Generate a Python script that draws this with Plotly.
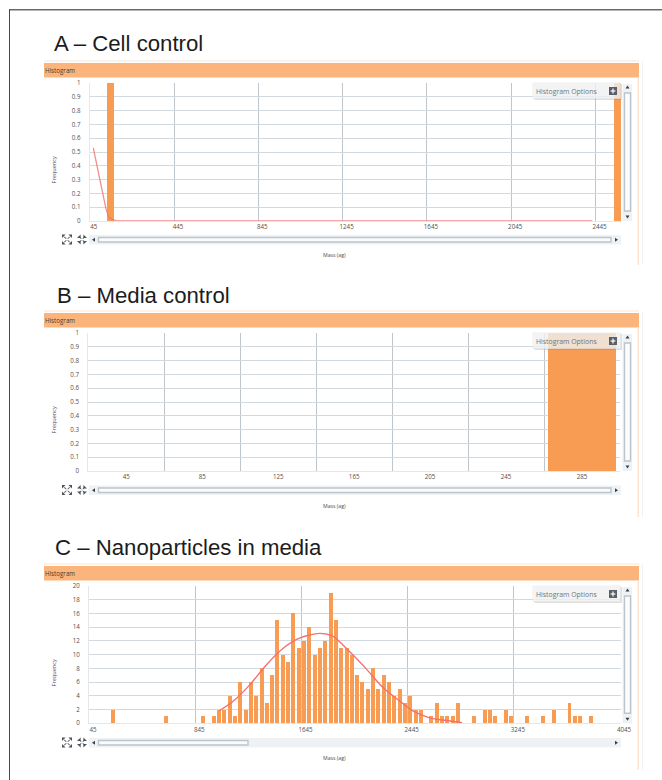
import plotly.graph_objects as go

W, H = 662, 780

# ---------- data ----------
a_bin_centers = [144, 2547]
a_bin_freq = [1, 1]
a_curve_x = [62, 74, 86, 98, 110, 122, 135, 150, 170, 200, 2430]
a_curve_y = [0.53, 0.44, 0.34, 0.25, 0.17, 0.09, 0.03, 0.012, 0.003, 0, 0]
a_ticks = [45, 445, 845, 1245, 1645, 2045, 2445]

b_bin_centers = [285]
b_bin_freq = [1]
b_labels = [45, 85, 125, 165, 205, 245, 285]
b_grid = [65, 105, 145, 185, 225, 265]

c_bin_centers = [225, 625, 905, 985, 1025, 1065, 1105, 1145, 1185, 1225, 1265, 1305, 1345, 1385, 1425,
                 1465, 1505, 1545, 1585, 1625, 1665, 1705, 1745, 1785, 1825, 1865, 1905, 1945, 1985,
                 2025, 2065, 2105, 2145, 2185, 2225, 2265, 2305, 2345, 2385, 2425, 2465, 2505, 2545,
                 2625, 2665, 2705, 2745, 2785, 2825, 2945, 3025, 3065, 3105, 3185, 3225, 3345, 3465,
                 3545, 3665, 3705, 3745, 3825]
c_bin_freq = [2, 1, 1, 1, 2, 2, 4, 1, 6, 2, 6, 4, 8, 3, 7,
              15, 10, 9, 16, 11, 12, 14, 10, 11, 12, 19, 15, 11, 11,
              10, 7, 6, 5, 8, 5, 7, 6, 4, 5, 3, 4, 2, 2,
              1, 3, 1, 1, 1, 3, 1, 2, 2, 1, 2, 1, 1, 1,
              2, 3, 1, 1, 1]
c_curve_x = [1025, 1130, 1255, 1380, 1505, 1630, 1780, 1880, 2005, 2130, 2255, 2385, 2485, 2610, 2735, 2855]
c_curve_y = [1.8, 3.2, 5.6, 8.5, 10.9, 12.4, 13.1, 12.7, 10.5, 8.0, 5.3, 3.25, 1.8, 0.8, 0.4, 0.1]
c_ticks = [45, 845, 1645, 2445, 3245, 4045]

a_yticks = [0, .1, .2, .3, .4, .5, .6, .7, .8, .9, 1]
c_yticks = list(range(0, 21, 2))

titles = ["A – Cell control", "B – Media control", "C – Nanoparticles in media"]

# ---------- styles ----------
HEADER = "#FBB57C"
BAR = "#F79C52"
CURVE = "#F4716F"
GRID = "#D3DADF"
VGRID = "#BFC7CD"
TXT = "#4f4f4f"
BASE = "Liberation Sans, Arial, sans-serif"
UI = "Open Sans, Noto Sans, sans-serif"


def px(x):
    return x / W


def py(y):
    return 1 - y / H


shapes, annots = [], []


def rect(x0, y0, x1, y1, fill, line=None, lw=1, layer="above"):
    shapes.append(dict(type="rect", xref="paper", yref="paper", x0=px(x0), x1=px(x1), y0=py(y0), y1=py(y1),
                       fillcolor=fill, line=dict(color=line or "rgba(0,0,0,0)", width=lw if line else 0), layer=layer))


def poly(points, fill):
    d = "M" + " L".join(f"{px(a):.5f},{py(b):.5f}" for a, b in points) + " Z"
    shapes.append(dict(type="path", xref="paper", yref="paper", path=d, fillcolor=fill, line=dict(width=0), layer="above"))


def text(x, y, s, size, color=TXT, angle=0, anchor="center", family=UI):
    annots.append(dict(xref="paper", yref="paper", x=px(x), y=py(y), text=s, showarrow=False, xanchor=anchor,
                       yanchor="middle", textangle=angle, font=dict(size=size, color=color, family=family)))


def icons(x, y):
    """Zoom-in / zoom-out glyphs: four small corner arrows each."""
    c = "#4d5359"
    size = 10
    arm = 3.6
    for ox, inward in ((0, False), (15, True)):
        for cx, cy, dx, dy in ((x + ox, y, 1, 1), (x + ox + size, y, -1, 1),
                               (x + ox, y + size, 1, -1), (x + ox + size, y + size, -1, -1)):
            if inward:
                tx, ty = cx + dx * arm, cy + dy * arm
                poly([(tx, ty), (tx - dx * arm, ty), (tx, ty - dy * arm)], c)
            else:
                poly([(cx, cy), (cx + dx * arm, cy), (cx, cy + dy * arm)], c)
            # small stem towards the glyph centre
            sx, sy = cx + dx * 2.2, cy + dy * 2.2
            poly([(sx - 0.6, sy), (sx + 0.6, sy), (sx + dx * 2 + 0.6, sy + dy * 2), (sx + dx * 2 - 0.6, sy + dy * 2)], c)


def chrome(hdr_y, title, title_x, title_y, plot_top, plot_bot, right_bottom, freq_y, mass_y, hx_y, thumb_end=None):
    text(title_x, title_y, title, 22.2, "#1c1c1c", anchor="left", family=BASE)
    rect(44, hdr_y - 2.5, 639, hdr_y - 1.5, "#FDE3CD", layer="below")
    rect(44, hdr_y, 639, hdr_y + 14.5, HEADER, layer="below")
    text(43.5, hdr_y + 7.5, "Histogram", 6.2, "#4a3a2a", anchor="left")
    rect(637.5, hdr_y + 14, 639, right_bottom, "#FDE3CD", layer="below")
    rect(642, hdr_y - 2, 643, right_bottom, "#F2F2F2", layer="below")
    # options box
    rect(534.5, plot_top + 1, 622, plot_top + 17, "rgba(120,120,120,0.22)")
    rect(533, plot_top, 620.5, plot_top + 15.5, "rgba(248,248,248,0.75)", "#E2E4E6", 0.6)
    text(534.3, plot_top + 8, "Histogram Options", 6.9, "#6f757a", anchor="left")
    rect(609, plot_top + 4, 617, plot_top + 12, "#59606a")
    rect(612.4, plot_top + 5.6, 613.6, plot_top + 10.4, "#ffffff")
    rect(610.6, plot_top + 7.4, 615.4, plot_top + 8.6, "#ffffff")
    # vertical scrollbar
    rect(622.5, plot_top + 1, 632, plot_bot, "#EEF2F5")
    rect(624.5, plot_top + 10, 630.5, plot_bot - 10, "#FBFCFD", "#BCC5CC", 1.4)
    poly([(627.5, plot_top + 2.5), (625.5, plot_top + 5.5), (629.5, plot_top + 5.5)], "#39424a")
    poly([(627.5, plot_bot - 2.5), (625.5, plot_bot - 5.5), (629.5, plot_bot - 5.5)], "#39424a")
    # horizontal scrollbar
    rect(89, hx_y, 621, hx_y + 9.5, "#EEF2F5")
    x_end = thumb_end if thumb_end else 611
    rect(98.5, hx_y + 2.5, x_end, hx_y + 7, "#FAFBFC", "#BCC5CC", 1.4)
    poly([(92, hx_y + 4.7), (95, hx_y + 2.7), (95, hx_y + 6.7)], "#39424a")
    poly([(618, hx_y + 4.7), (615, hx_y + 2.7), (615, hx_y + 6.7)], "#39424a")
    icons(62, hx_y - 0.5)
    text(335, mass_y, "Mass (ag)", 5.2, "#4c4c4c")
    text(53.5, freq_y, "Frequency", 5.6, "#5a4660", angle=-90)


fig = go.Figure()

# panel A
fig.add_bar(x=a_bin_centers, y=a_bin_freq, width=32, marker=dict(color=BAR, line=dict(width=0)), xaxis="x", yaxis="y", showlegend=False)
fig.add_scatter(x=a_curve_x, y=a_curve_y, mode="lines", line=dict(color=CURVE, width=1.3), opacity=0.8, cliponaxis=False, xaxis="x", yaxis="y", showlegend=False)
# panel B
fig.add_bar(x=b_bin_centers, y=b_bin_freq, width=36, marker=dict(color=BAR, line=dict(width=0)), xaxis="x2", yaxis="y2", showlegend=False)
# panel C
fig.add_bar(x=c_bin_centers, y=c_bin_freq, width=30, marker=dict(color=BAR, line=dict(width=0)), xaxis="x3", yaxis="y3", showlegend=False)
fig.add_scatter(x=c_curve_x, y=c_curve_y, mode="lines", line=dict(color=CURVE, width=1.4, shape="spline", smoothing=0.8), xaxis="x3", yaxis="y3", showlegend=False)


def yax(domain_top, domain_bot, rng, vals, anchor):
    return dict(domain=[py(domain_bot), py(domain_top)], range=rng, tickmode="array", tickvals=vals, ticktext=[f"{v:g}" for v in vals],
                showgrid=True, gridcolor=GRID, gridwidth=1.3, zeroline=False, showline=True, linecolor="#E4E8EB", linewidth=1,
                tickfont=dict(size=6.2, color=TXT, family=UI), ticks="", ticklen=0, ticklabelstandoff=7, anchor=anchor, automargin=False, layer="below traces")


def xax(left, right, rng, anchor):
    return dict(domain=[px(left), px(right)], range=rng, anchor=anchor, zeroline=False, showline=True, linecolor="#E4E8EB", linewidth=1,
                tickfont=dict(size=6.2, color=TXT, family=UI), ticks="", automargin=False, layer="below traces")


xa = xax(89.7, 621, [45, 2566], "y")
xa.update(tickmode="array", tickvals=a_ticks, ticktext=[str(v) for v in a_ticks], showgrid=True, gridcolor=VGRID, gridwidth=1, ticklabelshift=4)
xb = xax(88.3, 620, [25, 305], "y2")
xb.update(tickmode="array", tickvals=b_labels, ticktext=[str(v) for v in b_labels], showgrid=False,
          minor=dict(tickmode="array", tickvals=b_grid, showgrid=True, gridcolor=VGRID, gridwidth=1, ticks=""))
xc = xax(89.1, 620.7, [45, 4050], "y3")
xc.update(tickmode="array", tickvals=c_ticks, ticktext=[str(v) for v in c_ticks], showgrid=True, gridcolor=VGRID, gridwidth=1, ticklabelshift=4)

chrome(63, titles[0], 52, 43, 83, 221, 265, 170, 255, 235)
chrome(313, titles[1], 54.5, 295, 333, 471, 517, 420, 505.5, 485.5)
chrome(566, titles[2], 52.5, 547, 586, 723.3, 770, 673, 757.5, 738, thumb_end=248)

# figure frame
rect(9, 9, 662, 10.5, "#6a6a6a", layer="below")
rect(9, 9, 10, 780, "#4a4a4a", layer="below")

fig.update_layout(
    width=W, height=H, margin=dict(l=0, r=0, t=0, b=0), autosize=False,
    paper_bgcolor="white", plot_bgcolor="white", bargap=0, barmode="overlay", showlegend=False,
    xaxis=xa, xaxis2=xb, xaxis3=xc,
    yaxis=yax(83, 221, [0, 1], a_yticks, "x"),
    yaxis2=yax(333, 471, [0, 1], a_yticks, "x2"),
    yaxis3=yax(586, 723.3, [0, 20], c_yticks, "x3"),
    shapes=shapes, annotations=annots,
)
fig.write_html("out.html", config=dict(displayModeBar=False), post_script="document.body.style.margin='0';")
